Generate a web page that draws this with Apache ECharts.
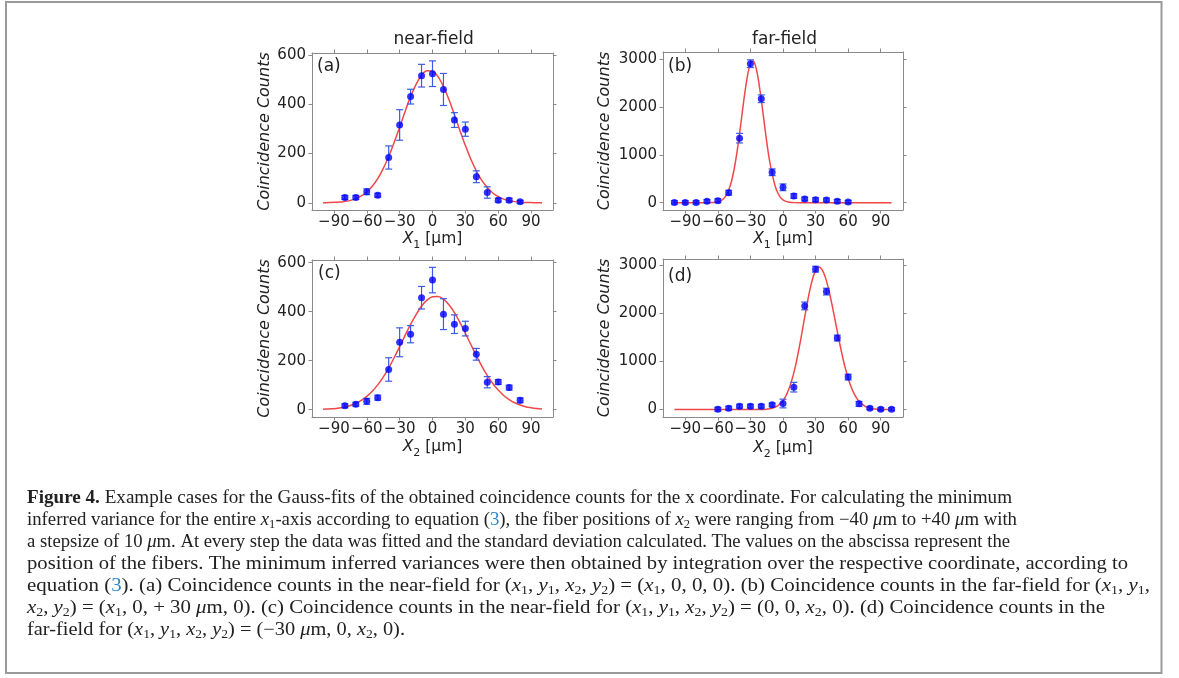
<!DOCTYPE html>
<html><head><meta charset="utf-8">
<script src="https://cdn.jsdelivr.net/npm/echarts@6/dist/echarts.min.js"></script>
<style>html,body{margin:0;padding:0;background:#fff;}#c{width:1179px;height:678px;}</style>
</head><body><div id="c"></div>
<script>
// ---------------- data ----------------
const xTickValues = [-90, -60, -30, 0, 30, 60, 90];
const yTicksNear = [0, 200, 400, 600];
const yTicksFar = [0, 1000, 2000, 3000];
const columnTitles = ['near-field', 'far-field'];
const panelLabels = ['(a)', '(b)', '(c)', '(d)'];
const yAxisTitle = 'Coincidence Counts';
const xAxisTitles = ['{i|X}{s|1} [μm]', '{i|X}{s|1} [μm]', '{i|X}{s|2} [μm]', '{i|X}{s|2} [μm]'];

// (a) near-field, x1
const posA = [-80, -70, -60, -50, -40, -30, -20, -10, 0, 10, 20, 30, 40, 50, 60, 70, 80];
const countsA = [22, 22, 45, 31, 184, 316, 431, 516, 524, 460, 336, 299, 106, 42, 11, 11, 4];
const errA = [8, 8, 12, 8, 47, 62, 30, 46, 52, 65, 30, 29, 24, 23, 8, 8, 6];
const fitXA = [-100, -95, -90, -85, -80, -75, -70, -65, -60, -55, -50, -45, -40, -35, -30, -25, -20, -15, -10, -5, 0, 5, 10, 15, 20, 25, 30, 35, 40, 45, 50, 55, 60, 65, 70, 75, 80, 85, 90, 95, 100];
const fitA = [0, 1, 2, 3, 6, 10, 17, 28, 44, 67, 98, 139, 188, 245, 307, 371, 431, 481, 518, 536, 534, 512, 472, 419, 358, 294, 233, 177, 130, 91, 62, 40, 25, 15, 9, 5, 3, 1, 1, 0, 0];

// (b) far-field, x1
const posB = [-100, -90, -80, -70, -60, -50, -40, -30, -20, -10, 0, 10, 20, 30, 40, 50, 60];
const countsB = [5, 5, 5, 28, 42, 209, 1347, 2902, 2170, 635, 321, 140, 77, 63, 56, 28, 14];
const errB = [35, 35, 35, 35, 40, 50, 100, 80, 80, 70, 70, 50, 40, 40, 40, 40, 35];
const fitXB = [-100, -90, -80, -70, -65, -62.5, -60, -57.5, -55, -52.5, -50, -47.5, -45, -42.5, -40, -37.5, -35, -32.5, -30, -27.5, -25, -22.5, -20, -17.5, -15, -12.5, -10, -7.5, -5, -2.5, 0, 2.5, 5, 7.5, 10, 20, 30, 40, 50, 60, 70, 80, 90, 100];
const fitB = [0, 0, 0, 0, 3, 8, 18, 38, 77, 147, 263, 442, 698, 1035, 1441, 1885, 2317, 2675, 2901, 2956, 2830, 2545, 2149, 1706, 1272, 891, 600, 370, 212, 115, 59, 28, 13, 5, 2, 0, 0, 0, 0, 0, 0, 0, 0, 0];

// (c) near-field, x2
const posC = [-80, -70, -60, -50, -40, -30, -20, -10, 0, 10, 20, 30, 40, 50, 60, 70, 80];
const countsC = [16, 22, 34, 49, 164, 275, 308, 457, 529, 390, 349, 331, 226, 112, 113, 90, 38];
const errC = [8, 8, 12, 10, 48, 59, 35, 46, 52, 63, 38, 30, 24, 23, 10, 10, 10];
const fitXC = [-100, -95, -90, -85, -80, -75, -70, -65, -60, -55, -50, -45, -40, -35, -30, -25, -20, -15, -10, -5, 0, 5, 10, 15, 20, 25, 30, 35, 40, 45, 50, 55, 60, 65, 70, 75, 80, 85, 90, 95, 100];
const fitC = [2, 3, 4, 7, 11, 17, 26, 38, 54, 75, 101, 133, 170, 212, 257, 303, 348, 388, 423, 447, 461, 462, 451, 428, 396, 356, 312, 266, 221, 178, 140, 107, 80, 58, 41, 28, 19, 12, 8, 5, 3];

// (d) far-field, x2
const posD = [-60, -50, -40, -30, -20, -10, 0, 10, 20, 30, 40, 50, 60, 70, 80, 90, 100];
const countsD = [7, 28, 69, 69, 69, 97, 125, 465, 2153, 2917, 2451, 1486, 674, 118, 28, 7, 7];
const errD = [40, 40, 40, 40, 40, 40, 90, 100, 80, 60, 70, 60, 60, 50, 30, 30, 30];
const fitXD = [-100, -90, -80, -70, -60, -50, -40, -30, -20, -15, -10, -5, 0, 2.5, 5, 7.5, 10, 12.5, 15, 17.5, 20, 22.5, 25, 27.5, 30, 32.5, 35, 37.5, 40, 42.5, 45, 47.5, 50, 52.5, 55, 57.5, 60, 62.5, 65, 67.5, 70, 75, 80, 85, 90, 95, 100];
const fitD = [0, 0, 0, 0, 0, 0, 0, 0, 2, 8, 26, 74, 184, 276, 400, 564, 768, 1013, 1295, 1604, 1924, 2234, 2514, 2740, 2893, 2960, 2935, 2838, 2673, 2453, 2193, 1911, 1622, 1341, 1081, 849, 649, 484, 351, 249, 171, 75, 30, 11, 3, 0, 0];

const captionLines = [
  '{b|Figure 4.} Example cases for the Gauss-fits of the obtained coincidence counts for the x coordinate. For calculating the minimum',
  'inferred variance for the entire {i|x}{s|1}-axis according to equation ({l|3}), the fiber positions of {i|x}{s|2} were ranging from −40 {i|μ}m to +40 {i|μ}m with',
  'a stepsize of 10 {i|μ}m. At every step the data was fitted and the standard deviation calculated. The values on the abscissa represent the',
  'position of the fibers. The minimum inferred variances were then obtained by integration over the respective coordinate, according to',
  'equation ({l|3}). (a) Coincidence counts in the near-field for ({i|x}{s|1}, {i|y}{s|1}, {i|x}{s|2}, {i|y}{s|2}) = ({i|x}{s|1}, 0, 0, 0). (b) Coincidence counts in the far-field for ({i|x}{s|1}, {i|y}{s|1},',
  '{i|x}{s|2}, {i|y}{s|2}) = ({i|x}{s|1}, 0, + 30 {i|μ}m, 0). (c) Coincidence counts in the near-field for ({i|x}{s|1}, {i|y}{s|1}, {i|x}{s|2}, {i|y}{s|2}) = (0, 0, {i|x}{s|2}, 0). (d) Coincidence counts in the',
  'far-field for ({i|x}{s|1}, {i|y}{s|1}, {i|x}{s|2}, {i|y}{s|2}) = (−30 {i|μ}m, 0, {i|x}{s|2}, 0).'
];

// ---------------- layout / style ----------------
const SANS = 'DejaVu Sans';
const SERIF = 'Liberation Serif';
const FRAME = '#8a8a8a';
const TXT = '#222';
const panels = [
  {l: 312, t: 53, r: 553, b: 210, xr: [-110, 110], yr: [-29, 608], yt: yTicksNear, pos: posA, cnt: countsA, err: errA, fx: fitXA, fy: fitA},
  {l: 663, t: 52, r: 903, b: 210, xr: [-110.5, 110.5], yr: [-153, 3146], yt: yTicksFar, pos: posB, cnt: countsB, err: errB, fx: fitXB, fy: fitB},
  {l: 312, t: 260, r: 553, b: 417, xr: [-110, 110], yr: [-30, 611], yt: yTicksNear, pos: posC, cnt: countsC, err: errC, fx: fitXC, fy: fitC},
  {l: 663, t: 259, r: 903, b: 417, xr: [-110.5, 110.5], yr: [-155, 3128], yt: yTicksFar, pos: posD, cnt: countsD, err: errD, fx: fitXD, fy: fitD}
];
const labelPos = [[317, 66.5], [668, 66.5], [318, 274], [668, 277]];
const xNameY = [238.5, 239, 447, 448];

const grid = [], xAxis = [], yAxis = [], series = [], graphic = [];
panels.forEach((p, g) => {
  grid.push({left: p.l, top: p.t, width: p.r - p.l, height: p.b - p.t, outerBoundsMode: 'none', containLabel: false});
  const lineStyle = {color: FRAME, width: 1};
  const tick = (vals) => ({show: true, length: 3.5, inside: false, lineStyle: {color: FRAME, width: 1}, customValues: vals});
  xAxis.push({type: 'value', gridIndex: g, position: 'bottom', min: p.xr[0], max: p.xr[1],
    axisLine: {show: true, onZero: false, lineStyle}, axisTick: tick(xTickValues),
    axisLabel: {show: true, customValues: xTickValues, margin: 5, color: TXT, fontFamily: SANS, fontSize: 15,
      formatter: v => (v < 0 ? '\u2212' + Math.abs(v) : String(v))},
    splitLine: {show: false}});
  xAxis.push({type: 'value', gridIndex: g, position: 'top', min: p.xr[0], max: p.xr[1],
    axisLine: {show: true, onZero: false, lineStyle}, axisTick: tick(xTickValues),
    axisLabel: {show: false}, splitLine: {show: false}});
  yAxis.push({type: 'value', gridIndex: g, position: 'left', min: p.yr[0], max: p.yr[1],
    axisLine: {show: true, onZero: false, lineStyle}, axisTick: tick(p.yt),
    axisLabel: {show: true, customValues: p.yt, margin: 6, color: TXT, fontFamily: SANS, fontSize: 15,
      formatter: v => String(v)},
    splitLine: {show: false}});
  yAxis.push({type: 'value', gridIndex: g, position: 'right', min: p.yr[0], max: p.yr[1],
    axisLine: {show: true, onZero: false, lineStyle}, axisTick: tick(p.yt),
    axisLabel: {show: false}, splitLine: {show: false}});

  series.push({type: 'line', xAxisIndex: 2 * g, yAxisIndex: 2 * g, data: p.fx.map((x, i) => [x, p.fy[i]]),
    showSymbol: false, smooth: 0.35, lineStyle: {color: '#f04848', width: 1.5}, z: 2, silent: true});
  series.push({type: 'custom', xAxisIndex: 2 * g, yAxisIndex: 2 * g, z: 3, silent: true,
    data: p.pos.map((x, i) => [x, p.cnt[i], p.err[i]]), encode: {x: 0, y: 1},
    renderItem: (params, api) => {
      const x = api.value(0), y = api.value(1), e = api.value(2);
      const lo = api.coord([x, y - e]), hi = api.coord([x, y + e]);
      const cw = 3.5;
      const st = {stroke: '#3a5ce6', lineWidth: 1.2};
      return {type: 'group', children: [
        {type: 'line', shape: {x1: lo[0], y1: lo[1], x2: hi[0], y2: hi[1]}, style: st},
        {type: 'line', shape: {x1: lo[0] - cw, y1: lo[1], x2: lo[0] + cw, y2: lo[1]}, style: st},
        {type: 'line', shape: {x1: hi[0] - cw, y1: hi[1], x2: hi[0] + cw, y2: hi[1]}, style: st}
      ]};
    }});
  series.push({type: 'scatter', xAxisIndex: 2 * g, yAxisIndex: 2 * g, data: p.pos.map((x, i) => [x, p.cnt[i]]),
    symbol: 'circle', symbolSize: 7, itemStyle: {color: '#0000ff'}, z: 4, silent: true});

  graphic.push({type: 'text', x: labelPos[g][0], y: labelPos[g][1],
    style: {text: panelLabels[g], fontFamily: SANS, fontSize: 17, fill: TXT, align: 'left', verticalAlign: 'middle'}});
  graphic.push({type: 'text', x: (g % 2 === 0 ? 265 : 605), y: (p.t + p.b) / 2, rotation: Math.PI / 2,
    style: {text: yAxisTitle, fontFamily: SANS, fontStyle: 'italic', fontSize: 16, fill: TXT, align: 'center', verticalAlign: 'middle'}});
  graphic.push({type: 'text', x: (p.l + p.r) / 2, y: xNameY[g],
    style: {text: xAxisTitles[g], fontFamily: SANS, fontSize: 15.5, fill: TXT, align: 'center', verticalAlign: 'middle',
      rich: {i: {fontFamily: SANS, fontStyle: 'italic', fontSize: 15.5, fill: TXT},
             s: {fontFamily: SANS, fontSize: 11, fill: TXT, verticalAlign: 'bottom', lineHeight: 11, padding: [0, 0, -4, 0]}}}});
});

graphic.push({type: 'text', x: 433.7, y: 39.5, style: {text: columnTitles[0], fontFamily: SANS, fontSize: 17, fill: TXT, align: 'center', verticalAlign: 'middle'}});
graphic.push({type: 'text', x: 784.5, y: 39.5, style: {text: columnTitles[1], fontFamily: SANS, fontSize: 17, fill: TXT, align: 'center', verticalAlign: 'middle'}});

graphic.push({type: 'rect', shape: {x: 6, y: 2, width: 1155.5, height: 671}, style: {fill: 'none', stroke: '#9a9a9a', lineWidth: 2}, z: 0});

// caption: each line stretched to span from CAP_LEFT to its right edge as seen in the figure
const CAP_SIZE = 18;
const CAP_LEFT = 27;
const CAP_TOP = 487;
const CAP_STEP = 22;
const captionRight = [1012, 1017, 1010, 1128, 1150, 1105, 405];
const capBase = {fontFamily: SERIF, fontSize: CAP_SIZE};
const capRich = {
  b: {fontFamily: SERIF, fontWeight: 'bold', fontSize: CAP_SIZE, fill: TXT, lineHeight: 22},
  i: {fontFamily: SERIF, fontStyle: 'italic', fontSize: CAP_SIZE, fill: TXT, lineHeight: 22},
  l: {fontFamily: SERIF, fontSize: CAP_SIZE, fill: '#2f86c4', lineHeight: 22},
  s: {fontFamily: SERIF, fontSize: 12, fill: TXT, lineHeight: 12, verticalAlign: 'bottom'}
};
const mctx = document.createElement('canvas').getContext('2d');
function cssFont(st) {
  return (st.fontStyle || 'normal') + ' normal ' + (st.fontWeight || 'normal') + ' ' + st.fontSize + 'px "' + st.fontFamily + '"';
}
function measureRich(line) {
  let w = 0, last = 0, m;
  const re = /\{(\w+)\|([^}]*)\}/g;
  const add = (txt, st) => { if (!txt) return; mctx.font = cssFont(st); w += mctx.measureText(txt).width; };
  while ((m = re.exec(line))) { add(line.slice(last, m.index), capBase); add(m[2], capRich[m[1]]); last = re.lastIndex; }
  add(line.slice(last), capBase);
  return w;
}
captionLines.forEach((line, k) => {
  const w = measureRich(line);
  const sx = (captionRight[k] - CAP_LEFT) / w;
  graphic.push({type: 'text', x: CAP_LEFT, y: CAP_TOP + CAP_STEP * k, scaleX: sx,
    style: {text: line, fontFamily: SERIF, fontSize: CAP_SIZE, fill: TXT, lineHeight: 22, align: 'left', verticalAlign: 'top', rich: capRich}});
});

const chart = echarts.init(document.getElementById('c'), null, {renderer: 'canvas'});
chart.setOption({animation: false, backgroundColor: '#fff', grid, xAxis, yAxis, series, graphic});
</script></body></html>
